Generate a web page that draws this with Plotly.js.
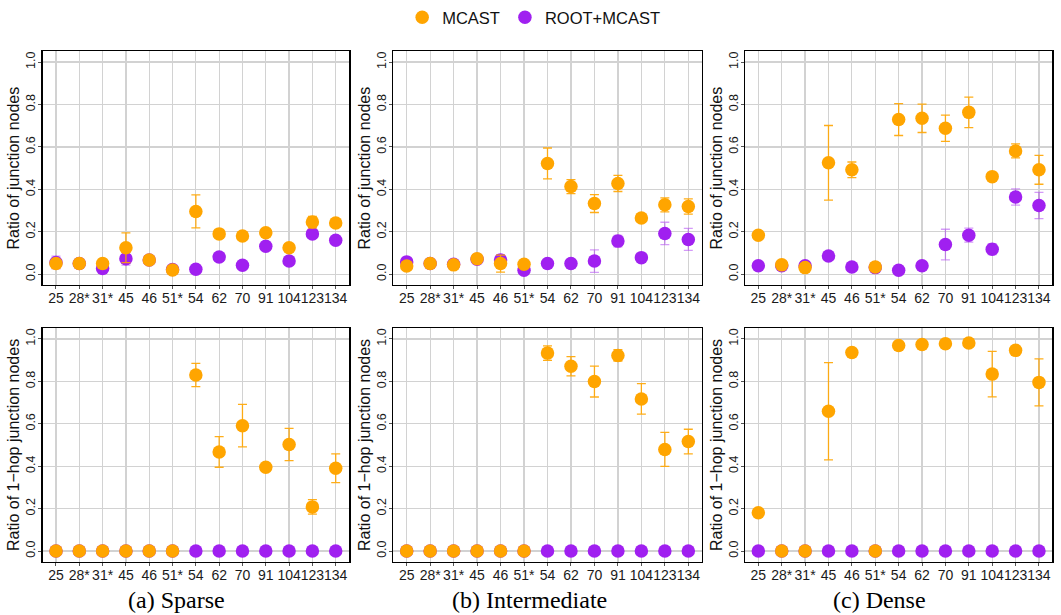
<!DOCTYPE html>
<html><head><meta charset="utf-8">
<script src="https://cdn.plot.ly/plotly-3.0.1.min.js"></script>
<style>html,body{margin:0;padding:0;background:#fff}#chart{width:1061px;height:615px}</style>
</head><body><div id="chart"></div>
<script>
const categories = ['25','28*','31*','45','46','51*','54','62','70','91','104','123','134'];
const seriesNames = ['MCAST','ROOT+MCAST'];
const captions = ['(a) Sparse','(b) Intermediate','(c) Dense'];
const yTitleTop = 'Ratio of junction nodes';
const yTitleBottom = 'Ratio of 1\u2212hop junction nodes';

// Top row: ratio of junction nodes
const sparseJuncMcast    = [0.050,0.050,0.050,0.125,0.067,0.020,0.296,0.190,0.180,0.195,0.125,0.246,0.241];
const sparseJuncMcastErr = [0.010,0.005,0.020,0.070,0.012,0.008,0.078,0.010,0.015,0.008,0.010,0.027,0.010];
const sparseJuncRoot     = [0.055,0.050,0.027,0.073,0.067,0.022,0.023,0.081,0.042,0.132,0.062,0.190,0.160];
const sparseJuncRootErr  = [0.030,0.005,0.010,0.030,0.010,0.005,0.005,0.008,0.008,0.020,0.008,0.020,0.010];

const interJuncMcast    = [0.039,0.050,0.044,0.073,0.050,0.047,0.522,0.413,0.333,0.428,0.265,0.327,0.319];
const interJuncMcastErr = [0.020,0.005,0.020,0.020,0.040,0.008,0.073,0.033,0.042,0.038,0.010,0.033,0.036];
const interJuncRoot     = [0.058,0.050,0.047,0.070,0.067,0.019,0.050,0.050,0.062,0.156,0.078,0.192,0.164];
const interJuncRootErr  = [0.010,0.005,0.020,0.020,0.025,0.010,0.005,0.005,0.053,0.027,0.008,0.053,0.052];

const denseJuncMcast    = [0.184,0.044,0.031,0.525,0.492,0.034,0.729,0.735,0.688,0.763,0.460,0.581,0.492];
const denseJuncMcastErr = [0.005,0.005,0.010,0.176,0.037,0.010,0.075,0.067,0.062,0.072,0.010,0.033,0.068];
const denseJuncRoot     = [0.040,0.040,0.040,0.086,0.034,0.031,0.019,0.040,0.140,0.184,0.118,0.364,0.324];
const denseJuncRootErr  = [0.005,0.005,0.010,0.005,0.005,0.005,0.005,0.005,0.072,0.033,0.026,0.038,0.062];

// Bottom row: ratio of 1-hop junction nodes
const sparseHopMcast    = [0,0,0,0,0,0,0.830,0.467,0.591,0.395,0.502,0.208,0.390];
const sparseHopMcastErr = [0,0,0,0,0,0,0.055,0.072,0.100,0.005,0.076,0.034,0.068];
const sparseHopRoot     = [0,0,0,0,0,0,0,0,0,0,0,0,0];
const interHopMcast    = [0,0,0,0,0,0,0.933,0.871,0.799,0.922,0.717,0.479,0.516];
const interHopMcastErr = [0,0,0,0,0,0,0.034,0.045,0.073,0.027,0.072,0.080,0.058];
const interHopRoot     = [0,0,0,0,0,0,0,0,0,0,0,0,0];
const denseHopMcast    = [0.180,0,0,0.659,0.936,0,0.969,0.974,0.977,0.981,0.834,0.946,0.795];
const denseHopMcastErr = [0.005,0,0,0.229,0.012,0,0.005,0.005,0.005,0.005,0.107,0.005,0.111];
const denseHopRoot     = [0,0,0,0,0,0,0,0,0,0,0,0,0];

const ORANGE = '#FFA500', PURPLE = '#A020F0';
const panels = [
  {m: sparseJuncMcast, me: sparseJuncMcastErr, r: sparseJuncRoot, re: sparseJuncRootErr},
  {m: interJuncMcast,  me: interJuncMcastErr,  r: interJuncRoot,  re: interJuncRootErr},
  {m: denseJuncMcast,  me: denseJuncMcastErr,  r: denseJuncRoot,  re: denseJuncRootErr},
  {m: sparseHopMcast,  me: sparseHopMcastErr,  r: sparseHopRoot,  re: null},
  {m: interHopMcast,   me: interHopMcastErr,   r: interHopRoot,   re: null},
  {m: denseHopMcast,   me: denseHopMcastErr,   r: denseHopRoot,   re: null}
];

const W = 1061, H = 615;
const xDom = [[42.7,349],[393.3,701.7],[745,1052.3]].map(d => [d[0]/W, d[1]/W]);
const yDom = [[45,281],[325,561]].map(d => [1-d[1]/H, 1-d[0]/H]);

const traces = [];
const layout = {
  width: W, height: H,
  margin: {l:0, r:0, t:0, b:0},
  paper_bgcolor: '#fff', plot_bgcolor: '#fff',
  font: {family: 'Liberation Sans, Arial, sans-serif', color: '#1a1a1a', size: 14},
  showlegend: true,
  legend: {orientation: 'h', x: 0.503, xanchor: 'center', y: 1.012, yanchor: 'top',
           font: {size: 16.5, color: '#111'}, itemwidth: 30, tracegroupgap: 0},
  annotations: []
};

panels.forEach((p, i) => {
  const k = i + 1;
  const xa = k === 1 ? 'x' : 'x' + k, ya = k === 1 ? 'y' : 'y' + k;
  traces.push({
    type: 'scatter', mode: 'markers', name: seriesNames[1], legendrank: 2,
    x: categories, y: p.r, xaxis: xa, yaxis: ya, showlegend: i === 0,
    marker: {color: PURPLE, size: 13.5},
    error_y: p.re ? {type: 'data', array: p.re, visible: true, color: 'rgba(160,32,240,0.45)', thickness: 1.3, width: 4.5} : {visible: false},
    cliponaxis: false
  });
  traces.push({
    type: 'scatter', mode: 'markers', name: seriesNames[0], legendrank: 1,
    x: categories, y: p.m, xaxis: xa, yaxis: ya, showlegend: i === 0,
    marker: {color: ORANGE, size: 13.5},
    error_y: {type: 'data', array: p.me, visible: true, color: 'rgba(255,165,0,0.9)', thickness: 1.3, width: 4.5},
    cliponaxis: false
  });
  const col = i % 3, row = Math.floor(i / 3);
  const axBase = {showline: true, mirror: true, linecolor: '#000', linewidth: 1.5,
    showgrid: true, gridcolor: '#d2d2d2', gridwidth: 1.2, zeroline: false,
    ticks: 'outside', ticklen: 3, tickwidth: 1, tickcolor: '#555'};
  layout[k === 1 ? 'xaxis' : 'xaxis' + k] = Object.assign({}, axBase, {
    domain: xDom[col], anchor: ya, type: 'category',
    categoryorder: 'array', categoryarray: categories,
    tickmode: 'array', tickvals: categories, ticktext: categories,
    tickfont: {size: 14, color: '#1a1a1a'}, ticklabelstandoff: -3,
    range: [-0.57, 12.57], tickangle: 0, automargin: false
  });
  layout[k === 1 ? 'yaxis' : 'yaxis' + k] = Object.assign({}, axBase, {
    domain: yDom[row], anchor: xa, range: [-0.05, 1.05],
    tickmode: 'linear', tick0: 0, dtick: 0.2, tickformat: '.1f', tickangle: -90,
    tickfont: {size: 12.5, color: '#1a1a1a'}, ticklabelstandoff: -2,
    automargin: true,
    title: {text: row === 0 ? yTitleTop : yTitleBottom, font: {size: 16, color: '#111'}, standoff: 0}
  });
});

captions.forEach((c, j) => {
  layout.annotations.push({
    text: c, xref: 'paper', yref: 'paper',
    x: [176, 529, 879][j] / W, y: 1 - 600 / H, xanchor: 'center', yanchor: 'middle',
    showarrow: false, font: {family: 'Liberation Serif, serif', size: 24, color: '#000'}
  });
});

Plotly.newPlot('chart', traces, layout, {displayModeBar: false, staticPlot: true});
</script></body></html>
